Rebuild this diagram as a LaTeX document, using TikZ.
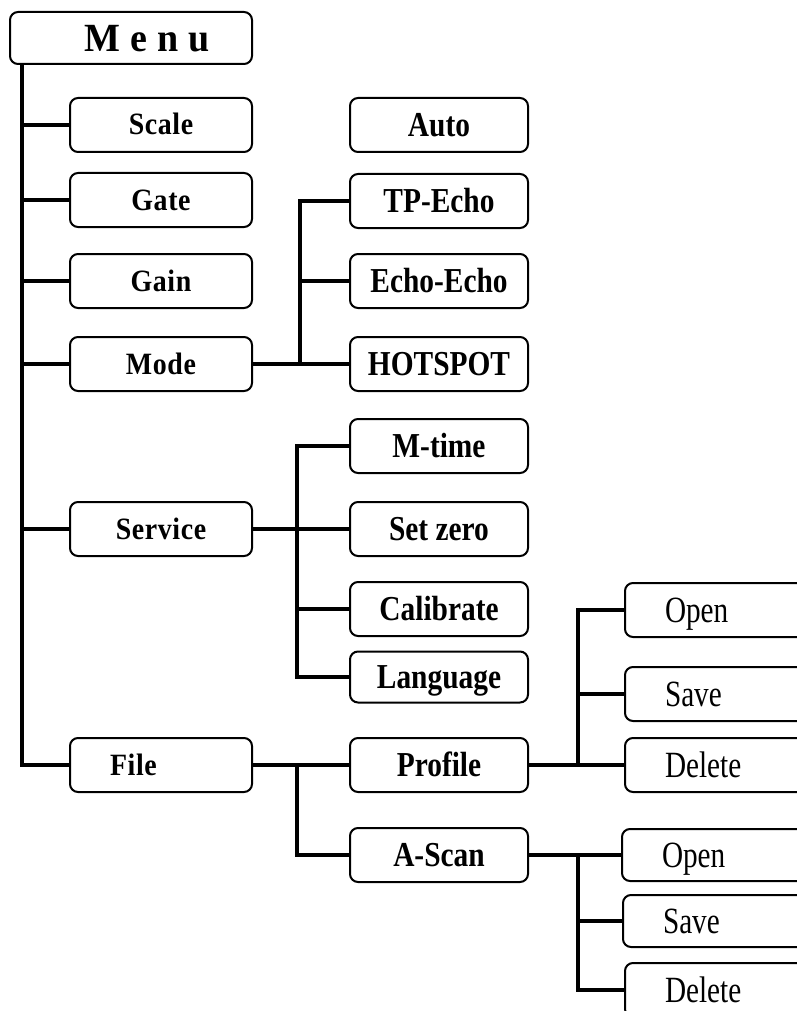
\documentclass[tikz,border=0pt]{standalone}
\usepackage{fontspec}
\setmainfont{Liberation Serif}
\begin{document}
\begin{tikzpicture}[x=1pt,y=-1pt,
  conn/.style={line width=4pt},
  box/.style={draw,line width=2pt,rounded corners=8pt,fill=white,
     minimum height=54pt,inner sep=0pt},
  lbox/.style={box,minimum width=182pt,text height=24pt,text depth=4pt,
     font=\fontsize{31}{33}\selectfont\bfseries\addfontfeature{FakeStretch=0.9,LetterSpace=2}},
  mbox/.style={box,minimum width=178pt,text height=28pt,text depth=5pt,
     font=\fontsize{35}{38}\selectfont\bfseries\addfontfeature{FakeStretch=0.84}},
  rbox/.style={box,inner xsep=40pt,text width=130pt,align=left,text height=29pt,text depth=5pt,
     font=\fontsize{37}{40}\selectfont\addfontfeature{FakeStretch=0.79}}]
\useasboundingbox (0,0) rectangle (797,1011);
\clip (0,0) rectangle (797,1011);
% left column
\node[box,minimum width=242pt,minimum height=52pt,text width=242pt,align=center,
  text height=33pt,text depth=5pt,
  font=\fontsize{40}{42}\selectfont\bfseries\addfontfeature{FakeStretch=0.95}] (menu) at (131,38) {\hspace*{32pt}M\hspace{10pt}e\hspace{10pt}n\hspace{10pt}u};
\node[lbox] (scale) at (161,125) {Scale};
\node[lbox] (gate) at (161,200) {Gate};
\node[lbox] (gain) at (161,281) {Gain};
\node[lbox] (mode) at (161,364) {Mode};
\node[lbox] (service) at (161,529) {Service};
\node[lbox,text width=102pt,inner xsep=40pt,minimum width=0pt,align=left] (file) at (161,765) {File};
% middle column
\node[mbox] (auto) at (439,125) {Auto};
\node[mbox] (tpecho) at (439,201) {TP-Echo};
\node[mbox] (echo) at (439,281) {Echo-Echo};
\node[mbox] (hotspot) at (439,364) {HOTSPOT};
\node[mbox] (mtime) at (439,446) {M-time};
\node[mbox] (setzero) at (439,529) {Set zero};
\node[mbox] (calibrate) at (439,609) {Calibrate};
\node[mbox,minimum height=51pt] (language) at (439,677) {Language};
\node[mbox] (profile) at (439,765) {Profile};
\node[mbox] (ascan) at (439,855) {A-Scan};
% right column
\node[rbox] (open1) at (730,610) {Open};
\node[rbox] (save1) at (730,694) {Save};
\node[rbox] (delete1) at (730,765) {Delete};
\node[rbox,minimum height=52pt] (open2) at (727,855) {Open};
\node[rbox,minimum height=52pt] (save2) at (728,921) {Save};
\node[rbox] (delete2) at (730,990) {Delete};
% branch coordinates
\coordinate (trunk) at (22,0);
\coordinate (mb) at (300,0);
\coordinate (sb) at (297,0);
\coordinate (fb) at (297,0);
\coordinate (pb) at (578,0);
% connectors
\draw[conn] (menu.south -| trunk) |- (file.west);
\draw[conn] (trunk |- scale.west) -- (scale.west);
\draw[conn] (trunk |- gate.west) -- (gate.west);
\draw[conn] (trunk |- gain.west) -- (gain.west);
\draw[conn] (trunk |- mode.west) -- (mode.west);
\draw[conn] (trunk |- service.west) -- (service.west);
\draw[conn] (mode.east) -- (hotspot.west);
\draw[conn] (tpecho.west) -| (mb |- hotspot.west);
\draw[conn] (mb |- echo.west) -- (echo.west);
\draw[conn] (service.east) -- (setzero.west);
\draw[conn] (mtime.west) -| (sb |- language.west) -- (language.west);
\draw[conn] (sb |- calibrate.west) -- (calibrate.west);
\draw[conn] (file.east) -- (profile.west);
\draw[conn] (fb |- file.east) |- (ascan.west);
\draw[conn] (profile.east) -- (delete1.west);
\draw[conn] (open1.west) -| (pb |- delete1.west);
\draw[conn] (pb |- save1.west) -- (save1.west);
\draw[conn] (ascan.east) -- (open2.west);
\draw[conn] (pb |- ascan.east) |- (delete2.west);
\draw[conn] (pb |- save2.west) -- (save2.west);
\end{tikzpicture}
\end{document}
